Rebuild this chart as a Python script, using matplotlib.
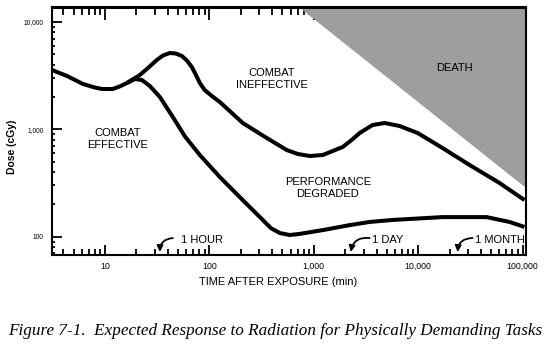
import matplotlib
matplotlib.use("Agg")
import matplotlib.pyplot as plt
from matplotlib.ticker import LogLocator, FixedLocator, NullFormatter

# ---- data ----
upper_x = [3.11, 4.33, 6.16, 8.0, 9.36, 11.9, 14.0, 16.2, 21.6, 25.2, 31.4, 35.9, 41.9,
           47.8, 54.6, 60.9, 68.0, 74.4, 81.1, 90.2, 105.7, 126, 209, 355, 551, 703,
           915, 1220, 1894, 2310, 2755, 3670, 4780, 6650, 9890, 17150, 31100, 60260,
           104500]
upper_y = [3570, 3140, 2645, 2450, 2375, 2375, 2520, 2700, 3207, 3650, 4425, 4875, 5142,
           5087, 4822, 4375, 3806, 3207, 2700, 2323, 2043, 1797, 1145, 830, 641, 589,
           564, 576, 684, 795, 924, 1097, 1145, 1073, 924, 669, 465, 316,
           219]

lower_x = [16.2, 19.4, 22.6, 26.9, 33.6, 44.7, 58.3, 81.1, 126, 209, 325, 388, 473,
           589, 735, 1220, 2210, 3435, 5700, 17150, 45220, 75100, 104500]
lower_y = [2700, 2943, 2880, 2533, 2000, 1302, 860, 576, 359, 219, 143, 120, 108,
           103.5, 106, 115, 128, 137, 143, 152, 152, 137, 123]

death_x = [735, 108000, 108000]
death_y = [13650, 13650, 284]

region_labels = ["COMBAT\nINEFFECTIVE", "DEATH", "COMBAT\nEFFECTIVE", "PERFORMANCE\nDEGRADED"]
region_x = [396, 22340, 13.3, 1361]
region_y = [2943, 3725, 812, 284]

marks = ["1 HOUR", "1 DAY", "1 MONTH"]
mark_head_x = [33.6, 2260, 23900]
mark_tail_x = [44.7, 3435, 33230]
mark_text_x = [53.3, 3590, 34760]
mark_head_y = 71.9
mark_tail_y = 97
mark_text_y = 93

xticks = [10, 100, 1000, 10000, 100000]
xticklabels = ["10", "100", "1,000", "10,000", "100,000"]
yticks = [100, 1000, 10000]
yticklabels = ["100", "1,000", "10,000"]

xlim = (3.11, 108000)
ylim = (67.4, 13650)

caption = "Figure 7-1.  Expected Response to Radiation for Physically Demanding Tasks"

# ---- figure ----
plt.rcParams['font.family'] = ['Liberation Sans', 'DejaVu Sans']
fig = plt.figure(figsize=(5.5, 3.48), dpi=100)
ax = fig.add_axes([52/550, 1-255/348, (526-52)/550, (255-7.5)/348])
ax.set_xscale('log')
ax.set_yscale('log')
ax.set_xlim(*xlim)
ax.set_ylim(*ylim)

ax.fill(death_x, death_y, color='#9e9e9e', lw=0, zorder=1)
ax.plot(upper_x, upper_y, color='black', lw=2.9, solid_joinstyle='round',
        solid_capstyle='butt', zorder=3)
ax.plot(lower_x, lower_y, color='black', lw=2.9, solid_joinstyle='round',
        solid_capstyle='butt', zorder=3)

for t, x, y in zip(region_labels, region_x, region_y):
    ax.text(x, y, t, ha='center', va='center', fontsize=8, linespacing=1.25, zorder=4)

for t, hx, tx, lx in zip(marks, mark_head_x, mark_tail_x, mark_text_x):
    ax.annotate("", xy=(hx, mark_head_y), xytext=(tx, mark_tail_y),
                arrowprops=dict(arrowstyle='-|>', color='black', lw=1.3,
                                connectionstyle='arc3,rad=0.45', mutation_scale=9,
                                shrinkA=0, shrinkB=0), zorder=4)
    ax.text(lx, mark_text_y, t, ha='left', va='center', fontsize=8, zorder=4)

for s in ax.spines.values():
    s.set_linewidth(1.5)

ax.xaxis.set_major_locator(FixedLocator(xticks))
ax.set_xticklabels(xticklabels)
ax.xaxis.set_minor_locator(LogLocator(base=10, subs=range(2, 10), numticks=20))
ax.xaxis.set_minor_formatter(NullFormatter())
ax.yaxis.set_major_locator(FixedLocator(yticks))
ax.set_yticklabels(yticklabels)
ax.yaxis.set_minor_locator(LogLocator(base=10, subs=range(2, 10), numticks=20))
ax.yaxis.set_minor_formatter(NullFormatter())

ax.tick_params(axis='x', which='major', direction='in', length=7, width=1.3,
               labelsize=6.3, pad=5, top=False)
ax.tick_params(axis='x', which='minor', direction='in', length=4.5, width=1.3, top=False)
ax.tick_params(axis='y', which='major', direction='in', length=7, width=1.3,
               labelsize=4.8, pad=6, right=False)
ax.tick_params(axis='y', which='minor', direction='in', length=2.5, width=1.3, right=False)

sec = ax.secondary_xaxis('top')
sec.xaxis.set_major_locator(FixedLocator(xticks))
sec.xaxis.set_minor_locator(LogLocator(base=10, subs=range(2, 10), numticks=20))
sec.xaxis.set_major_formatter(NullFormatter())
sec.xaxis.set_minor_formatter(NullFormatter())
sec.tick_params(which='major', direction='in', length=9, width=1.3)
sec.tick_params(which='minor', direction='in', length=5.5, width=1.3)
sec.spines['top'].set_linewidth(1.5)

fig.text(278/550, 1-282/348, "TIME AFTER EXPOSURE (min)", ha='center', va='center', fontsize=8)
fig.text(12/550, 1-147/348, "Dose (cGy)", ha='center', va='center', rotation=90,
         fontsize=7.5, fontweight='bold')
fig.text(275/550, 1-331/348, caption, ha='center', va='center', fontsize=12.3,
         family=['Liberation Serif', 'DejaVu Serif'], style='italic')

fig.savefig("out.png", dpi=100)
